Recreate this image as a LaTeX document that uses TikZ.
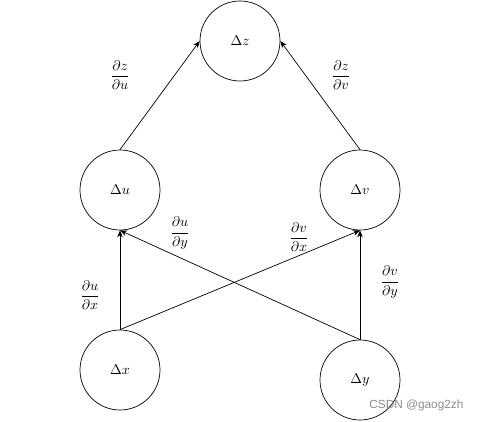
\documentclass[tikz,border=0pt]{standalone}
\usepackage{fontspec}
\newfontfamily\wmfont{Liberation Sans}
\usetikzlibrary{arrows.meta}
\begin{document}
\begin{tikzpicture}[
  var/.style={circle,draw,line width=0.5pt,minimum size=2cm,inner sep=0pt},
  conn/.style={-{Stealth[length=5pt,width=4pt]},line width=0.5pt},
  lbl/.style={inner sep=0pt}
]
\useasboundingbox (0,0) rectangle (12,-10.525);
\node[var] (z) at (6,-1.025) {$\Delta z$};
\node[var] (u) at (3,-4.75) {$\Delta u$};
\node[var] (v) at (9,-4.75) {$\Delta v$};
\node[var] (x) at (3,-9.25) {$\Delta x$};
\node[var] (y) at (9,-9.5) {$\Delta y$};

\draw[conn] (u.north) -- (z.west);
\draw[conn] (v.north) -- (z.east);
\draw[conn] (x.north) -- (u.south);
\draw[conn] (x.north) -- (v.south);
\draw[conn] (y.north) -- (u.south);
\draw[conn] (y.north) -- (v.south);

\node[lbl] (lzu) at (3,-1.875) {$\displaystyle\frac{\partial z}{\partial u}$};
\node[lbl] (lzv) at (8.525,-1.875) {$\displaystyle\frac{\partial z}{\partial v}$};
\node[lbl] (luy) at (4.5,-5.825) {$\displaystyle\frac{\partial u}{\partial y}$};
\node[lbl] (lvx) at (7.475,-5.925) {$\displaystyle\frac{\partial v}{\partial x}$};
\node[lbl] (lux) at (2.25,-7.375) {$\displaystyle\frac{\partial u}{\partial x}$};
\node[lbl] (lvy) at (9.75,-7.05) {$\displaystyle\frac{\partial v}{\partial y}$};

\node[inner sep=0pt,text=black!45] (wm) at (10.41,-10.125) {\wmfont\fontsize{8.4}{10}\selectfont CSDN @gaog2zh};
\end{tikzpicture}
\end{document}
